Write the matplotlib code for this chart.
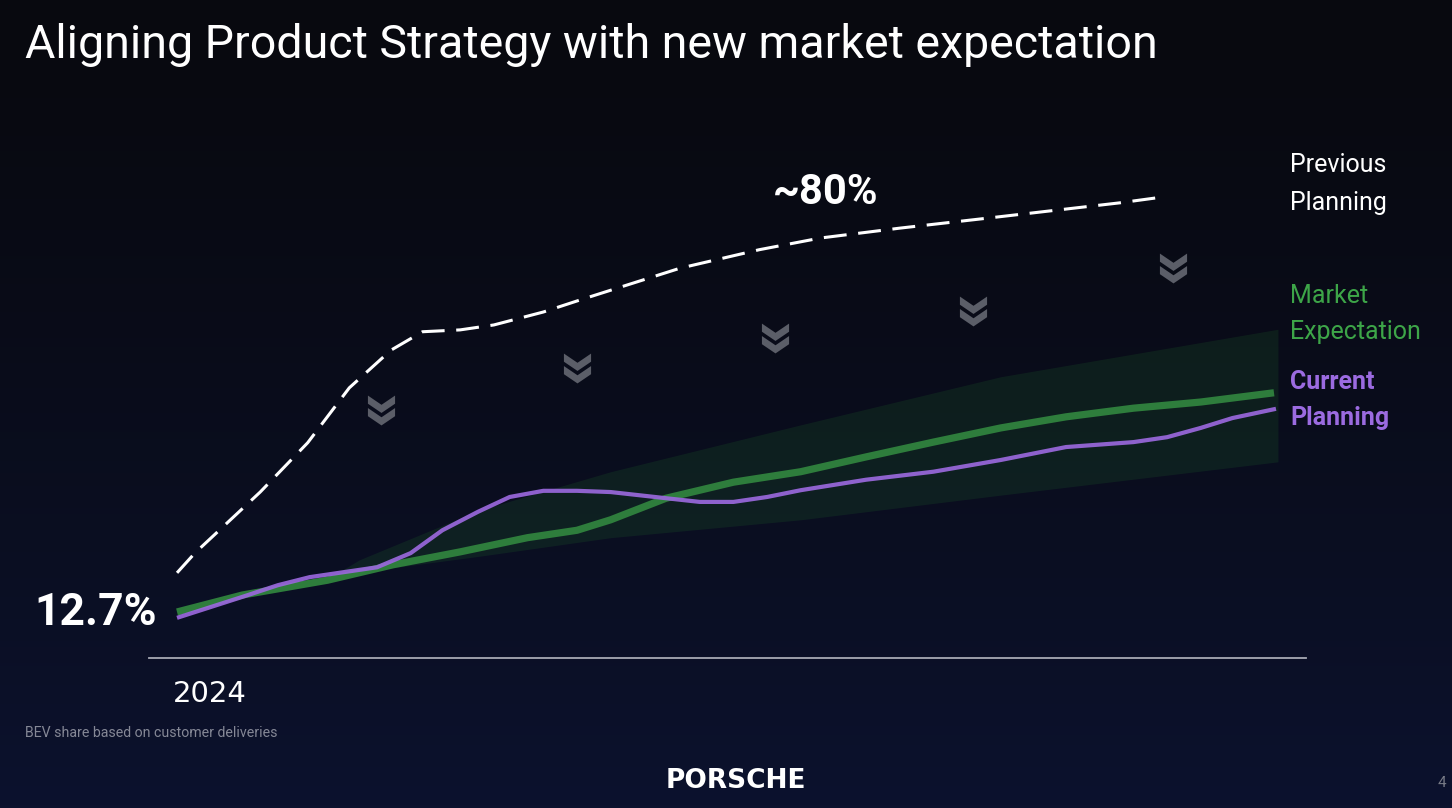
import numpy as np
import matplotlib.pyplot as plt
from matplotlib.path import Path

W, H = 1452, 808

# 数据：年份 + BEV 占比（示意刻度）
prev_years = [2024.0, 2024.09, 2024.42, 2024.66, 2024.87, 2025.08, 2025.24, 2025.43, 2025.60,
              2025.85, 2026.04, 2026.54, 2026.94, 2027.25, 2027.65, 2028.06, 2028.41, 2028.76, 2028.99]
prev_share = [19.0, 22.2, 32.1, 40.1, 49.0, 55.1, 58.1, 58.4, 59.2,
              61.3, 63.3, 68.4, 71.4, 73.3, 74.9, 76.4, 77.7, 79.0, 80.0]

market_years = [2024.0, 2024.33, 2024.76, 2025.09, 2025.43, 2025.77, 2026.02, 2026.19, 2026.47,
                2026.81, 2027.15, 2027.48, 2027.82, 2028.16, 2028.49, 2028.83, 2029.17, 2029.54]
market_share = [12.65, 15.4, 17.8, 20.3, 22.4, 24.7, 25.9, 27.6, 31.1,
                33.7, 35.4, 37.8, 40.2, 42.5, 44.3, 45.7, 46.7, 48.2]

band_years = [2024.77, 2024.92, 2025.53, 2026.19, 2027.15, 2028.16, 2029.56]
band_upper = [18.2, 21.1, 29.2, 35.4, 43.0, 50.8, 58.5]
band_lower = [17.8, 19.1, 21.7, 24.7, 27.6, 31.6, 37.0]

current_years = [2024.0, 2024.33, 2024.51, 2024.67, 2024.84, 2025.01, 2025.18, 2025.34, 2025.52,
                 2025.68, 2025.85, 2026.02, 2026.19, 2026.47, 2026.64, 2026.81, 2026.98, 2027.15,
                 2027.48, 2027.82, 2028.16, 2028.49, 2028.83, 2029.0, 2029.17, 2029.33, 2029.55]
current_share = [11.7, 15.1, 17.0, 18.3, 19.1, 19.9, 22.2, 25.9, 28.9,
                 31.3, 32.3, 32.3, 32.1, 31.1, 30.5, 30.5, 31.3, 32.4,
                 34.1, 35.4, 37.3, 39.4, 40.2, 41.0, 42.5, 44.1, 45.6]

chevron_years = [2025.03, 2026.02, 2027.02, 2028.02, 2029.03]
chevron_share = [45.4, 52.2, 57.1, 61.5, 68.4]

baseline_years = [2023.86, 2029.70]
baseline_share = [5.2, 5.2]

plt.rcParams['font.family'] = ['Roboto', 'DejaVu Sans']

fig = plt.figure(figsize=(W / 100, H / 100), dpi=100)
ax = fig.add_axes([0, 0, 1, 1])
xlim = (2023.106, 2030.439)
ylim = (-19.14, 111.90)

# 背景渐变
top = np.array([8, 9, 15]) / 255
bottom = np.array([12, 18, 46]) / 255
t = np.linspace(0, 1, 256)[:, None, None] ** 1.3
grad = top * (1 - t) + bottom * t
grad = np.repeat(grad, 2, axis=1)
ax.imshow(grad, extent=[xlim[0], xlim[1], ylim[0], ylim[1]], origin='upper', aspect='auto', zorder=0)

# 基线
ax.plot(baseline_years, baseline_share, color='#cfd0d8', lw=1.3, alpha=0.8, zorder=1)

# 市场预期区间
ax.fill_between(band_years, band_lower, band_upper, color='#1f6a2a', alpha=0.2, lw=0, zorder=2)

ax.plot(prev_years, prev_share, color='white', lw=2.2, dashes=(7.5, 3.8), zorder=3)
ax.plot(market_years, market_share, color='#2e7d3c', lw=5.2, solid_capstyle='butt', zorder=4)
ax.plot(current_years, current_share, color='#9a68dd', lw=3.0, alpha=0.92, solid_capstyle='butt', zorder=5)

# 双箭头
def chevron(y0):
    return [(-1, y0), (0, y0 - 0.68), (1, y0), (1, y0 - 0.6), (0, y0 - 1.28), (-1, y0 - 0.6), (-1, y0)]

verts = chevron(1.1) + chevron(1.1 - 0.92)
codes = ([Path.MOVETO] + [Path.LINETO] * 5 + [Path.CLOSEPOLY]) * 2
chev = Path(verts, codes)
ax.plot(chevron_years, chevron_share, ls='none', marker=chev, ms=21.5,
        color='#5b5e68', mec='none', zorder=3)

ax.set_xlim(*xlim)
ax.set_ylim(*ylim)
ax.axis('off')


def fx(x):
    return x / W


def fy(y):
    return 1 - y / H


fig.text(fx(25), fy(58), 'Aligning Product Strategy with new market expectation',
         color='white', fontsize=33.5, va='baseline', ha='left')
fig.text(fx(826), fy(192), '~80%', color='white', fontsize=30, fontweight='bold',
         ha='center', va='center')
fig.text(fx(157), fy(613), '12.7%', color='white', fontsize=32, fontweight='bold',
         ha='right', va='center')
fig.text(fx(210), fy(694), '2024', color='white', fontsize=21, ha='center', va='center',
         family='DejaVu Sans')
fig.text(fx(25), fy(733), 'BEV share based on customer deliveries', color='#858896',
         fontsize=10.2, ha='left', va='center')
fig.text(fx(736), fy(781), 'PORSCHE', color='white', fontsize=19, fontweight='bold',
         ha='center', va='center', family='DejaVu Sans')
fig.text(fx(1442), fy(783), '4', color='#777a86', fontsize=11, ha='center', va='center')

fig.text(fx(1290), fy(184), 'Previous\nPlanning', color='white', fontsize=18,
         ha='left', va='center', linespacing=1.72)
fig.text(fx(1290), fy(314), 'Market\nExpectation', color='#3da548', fontsize=18,
         ha='left', va='center', linespacing=1.58)
fig.text(fx(1290), fy(400), 'Current\nPlanning', color='#9b6be0', fontsize=18, fontweight='bold',
         ha='left', va='center', linespacing=1.65)

fig.savefig('out.png', dpi=100, facecolor='#090a12')
